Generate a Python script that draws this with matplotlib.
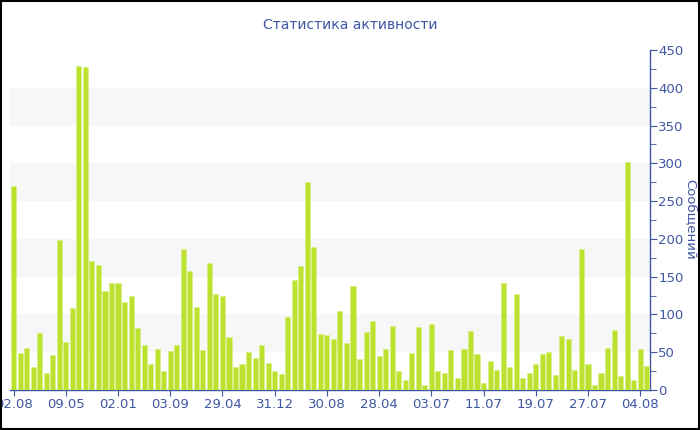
import matplotlib
matplotlib.use("Agg")
import matplotlib.pyplot as plt
from matplotlib.ticker import MultipleLocator
import numpy as np

# значения по столбцам (сообщений)
messages = [270, 49, 55, 30, 75, 23, 46, 198, 64, 109,
            429, 427, 171, 165, 131, 141, 141, 116, 125, 82,
            59, 34, 54, 25, 51, 60, 187, 157, 110, 53,
            168, 127, 125, 70, 30, 34, 50, 42, 60, 36,
            25, 21, 96, 146, 164, 275, 189, 74, 73, 68,
            104, 62, 137, 41, 77, 91, 45, 54, 85, 25,
            13, 49, 84, 7, 87, 25, 22, 53, 16, 54,
            78, 48, 9, 38, 27, 142, 30, 127, 16, 22,
            34, 47, 50, 20, 71, 67, 26, 187, 35, 6,
            23, 55, 79, 18, 302, 13, 54, 32]
tick_labels = ["02.08", "09.05", "02.01", "03.09", "29.04", "31.12", "30.08",
               "28.04", "03.07", "11.07", "19.07", "27.07", "04.08"]
tick_step = 8

blue = "#3f57a3"
fig = plt.figure(figsize=(7, 4.3), dpi=100)
ax = fig.add_axes([10 / 700, 40 / 430, 640 / 700, 340 / 430])

x = np.arange(len(messages))
ax.bar(x, messages, width=0.78, color="#bde12f", edgecolor="#d6ef80", linewidth=0.4, zorder=3)

ax.set_xlim(-0.55, len(messages) - 0.5)
ax.set_ylim(0, 450)

# полосы фона
for lo in range(50, 450, 100):
    ax.axhspan(lo, lo + 50, color="#f7f7f7", zorder=0, lw=0)

ax.yaxis.tick_right()
ax.yaxis.set_major_locator(MultipleLocator(50))
ax.yaxis.set_minor_locator(MultipleLocator(25))
ax.set_xticks(x[::tick_step])
ax.set_xticklabels(tick_labels)

for s in ["left", "top"]:
    ax.spines[s].set_visible(False)
for s in ["right", "bottom"]:
    ax.spines[s].set_color(blue)
    ax.spines[s].set_linewidth(1)

ax.tick_params(axis="y", which="major", colors=blue, labelcolor=blue, labelsize=9.5, length=5, pad=1)
ax.tick_params(axis="y", which="minor", colors=blue, length=4)
ax.tick_params(axis="x", colors=blue, labelcolor=blue, labelsize=9.5, length=4, pad=2)

# подпись оси справа
fig.text(690 / 700, 1 - 219 / 430, "Сообщений", color=blue, fontsize=9.5, rotation=270,
         ha="center", va="center")
fig.text(0.5, 1 - 25 / 430, "Статистика активности", color=blue, fontsize=10,
         ha="center", va="center")

# рамка вокруг картинки
fig.patches.append(plt.Rectangle((0.001, 0.002), 0.997, 0.996, transform=fig.transFigure,
                                 fill=False, edgecolor="black", linewidth=1.5))

fig.savefig("out.png", dpi=100)
